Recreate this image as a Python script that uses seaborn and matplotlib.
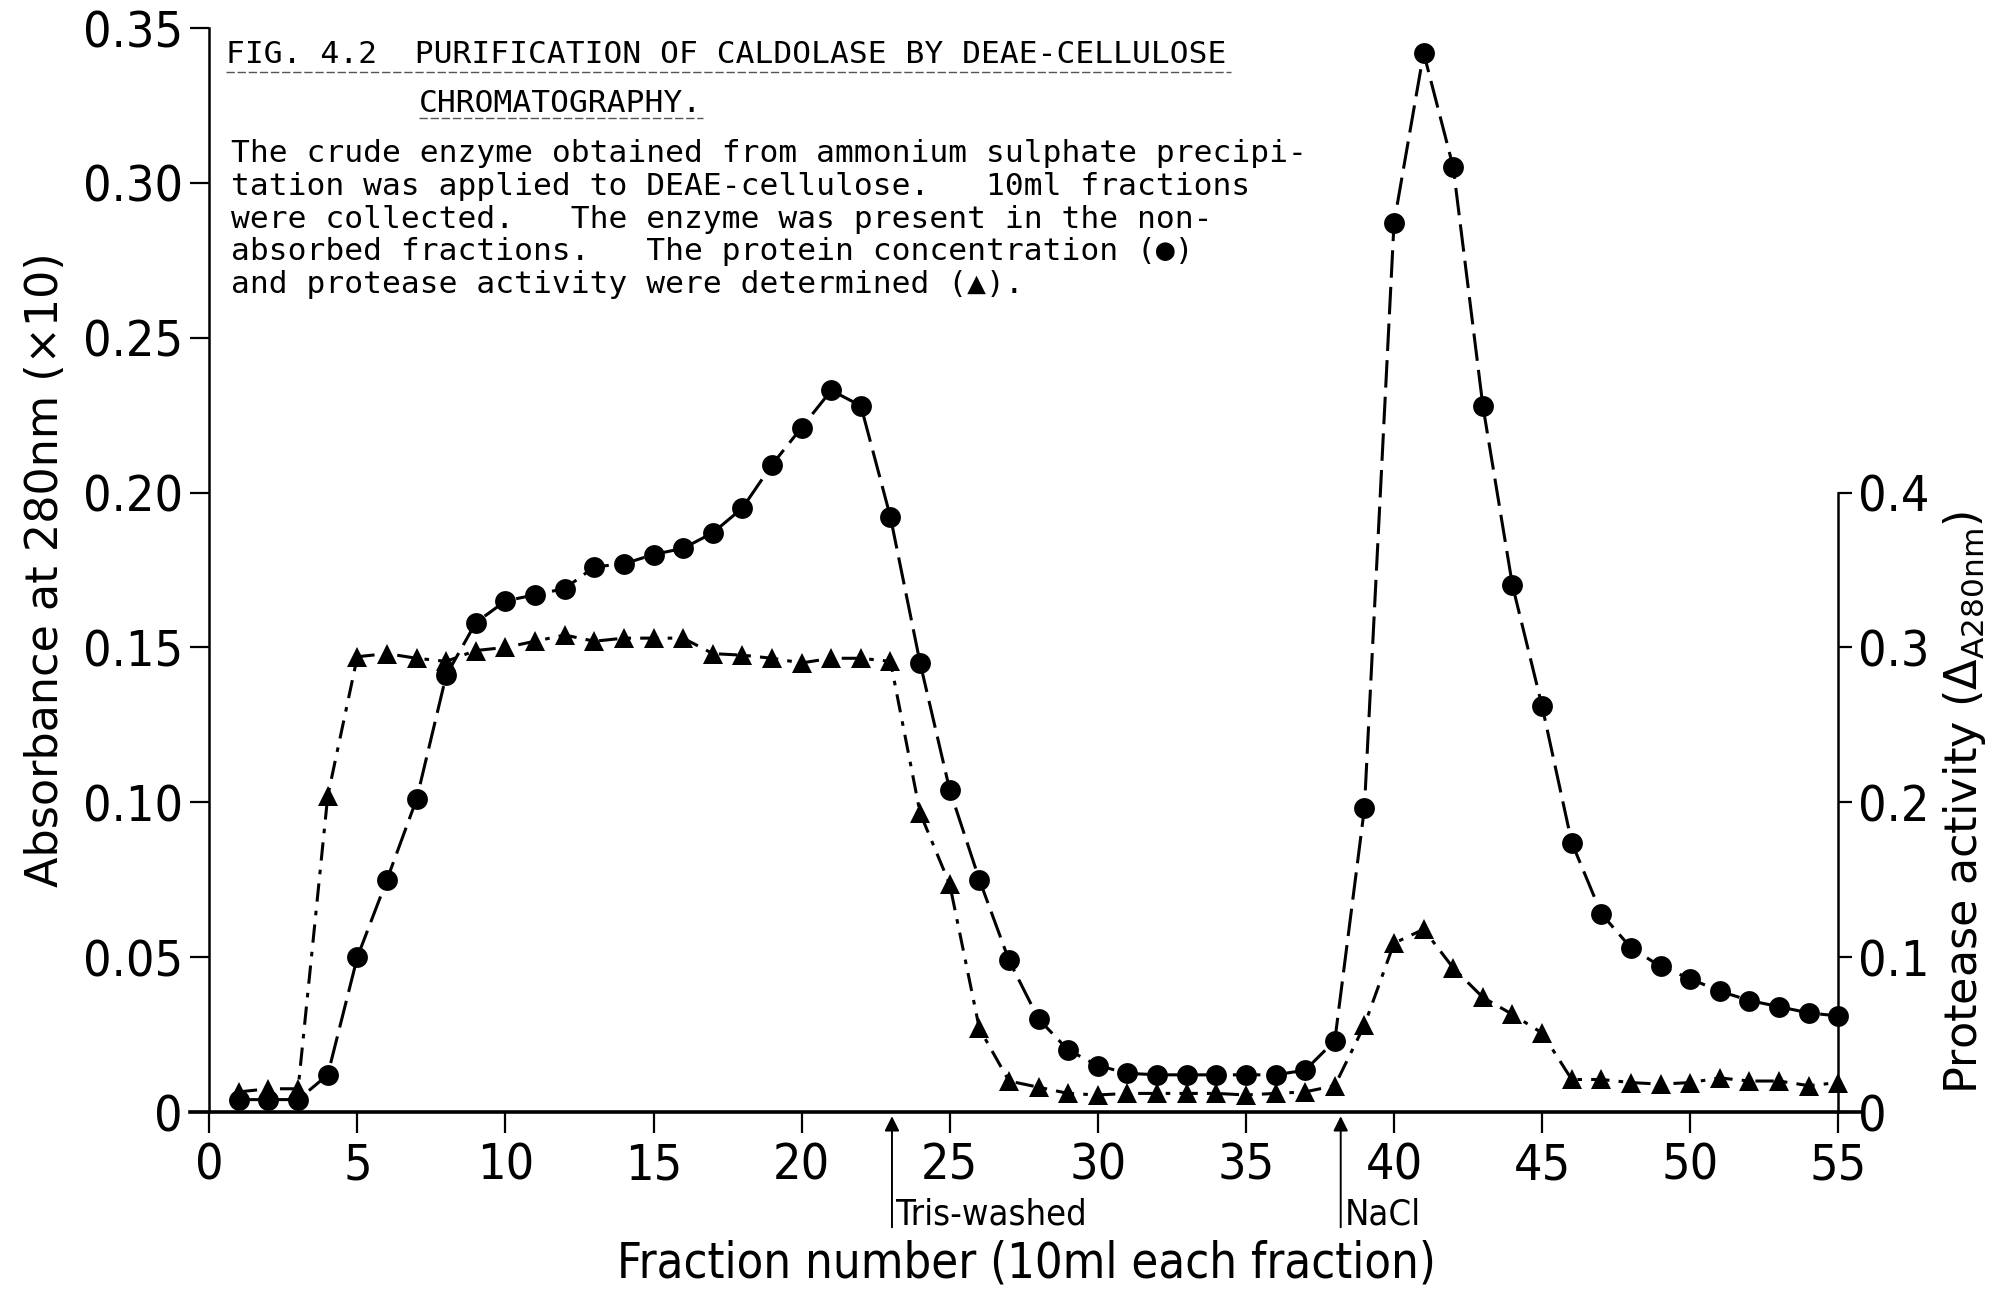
import matplotlib
matplotlib.use("Agg")
import matplotlib.pyplot as plt
import seaborn as sns
import pandas as pd
from matplotlib.lines import Line2D

# ---------------- data ----------------
fractions = list(range(1, 56))
protein_a280 = [0.004, 0.004, 0.004, 0.012, 0.050, 0.075, 0.101, 0.141, 0.158, 0.165,
                0.167, 0.169, 0.176, 0.177, 0.180, 0.182, 0.187, 0.195, 0.209, 0.221,
                0.233, 0.228, 0.192, 0.145, 0.104, 0.075, 0.049, 0.030, 0.020, 0.015,
                0.0125, 0.012, 0.012, 0.012, 0.012, 0.012, 0.0135, 0.023, 0.098, 0.287,
                0.342, 0.305, 0.228, 0.170, 0.131, 0.087, 0.064, 0.053, 0.047, 0.043,
                0.039, 0.036, 0.034, 0.032, 0.031]
protease_activity = [0.013, 0.015, 0.015, 0.204, 0.294, 0.296, 0.293, 0.291, 0.298, 0.300,
                     0.304, 0.308, 0.304, 0.306, 0.306, 0.306, 0.296, 0.295, 0.293, 0.290,
                     0.293, 0.293, 0.291, 0.193, 0.147, 0.054, 0.020, 0.016, 0.012, 0.011,
                     0.012, 0.012, 0.012, 0.012, 0.011, 0.012, 0.013, 0.017, 0.056, 0.109,
                     0.118, 0.093, 0.074, 0.063, 0.051, 0.021, 0.021, 0.019, 0.018, 0.019,
                     0.022, 0.020, 0.020, 0.017, 0.019]
x_ticks = [0, 5, 10, 15, 20, 25, 30, 35, 40, 45, 50, 55]
left_ticks = [0, 0.05, 0.10, 0.15, 0.20, 0.25, 0.30, 0.35]
left_ticklabels = ["0", "0.05", "0.10", "0.15", "0.20", "0.25", "0.30", "0.35"]
right_ticks = [0, 0.1, 0.2, 0.3, 0.4]
right_ticklabels = ["0", "0.1", "0.2", "0.3", "0.4"]
event_positions = [23.05, 38.2]
event_labels = ["Tris-washed", "NaCl"]

title_line1 = "FIG. 4.2  PURIFICATION OF CALDOLASE BY DEAE-CELLULOSE"
title_line2 = "CHROMATOGRAPHY."
caption_lines = [
    "The crude enzyme obtained from ammonium sulphate precipi-",
    "tation was applied to DEAE-cellulose.   10ml fractions",
    "were collected.   The enzyme was present in the non-",
    "absorbed fractions.   The protein concentration (\u25CF)",
    "and protease activity were determined (\u25B2).",
]

df = pd.DataFrame({"fraction": fractions, "protein": protein_a280,
                   "protease": protease_activity})

# ---------------- style ----------------
sns.set_style("white")
plt.rcParams["font.family"] = ["DejaVu Sans"]
plt.rcParams["text.color"] = "black"
plt.rcParams["axes.labelcolor"] = "black"
plt.rcParams["xtick.color"] = "black"
plt.rcParams["ytick.color"] = "black"
narrow = ["Liberation Sans Narrow", "DejaVu Sans"]
mono = ["DejaVu Sans Mono", "DejaVu Sans"]

W, H = 2013, 1293
fig = plt.figure(figsize=(W / 100, H / 100), dpi=100)
fig.patch.set_facecolor("white")
ax = fig.add_axes([190 / W, 1 - 1112 / H, 1672 / W, 1084 / H])
ax.set_facecolor("white")

# protein (circles, dashed line)
sns.lineplot(data=df, x="fraction", y="protein", ax=ax, color="black",
             linewidth=2.2, linestyle=(0, (9, 3)), marker="o", markersize=15,
             markeredgecolor="black", markerfacecolor="black", markeredgewidth=0,
             zorder=3)

ax.set_xlim(-0.65, 55.8)
ax.set_ylim(0, 0.35)

# protease (triangles, dash-dot) on twin axis
tw = ax.twinx()
sns.lineplot(data=df, x="fraction", y="protease", ax=tw, color="black",
             linewidth=2.2, linestyle=(0, (6, 3, 1.5, 3)), marker="^", markersize=15,
             markeredgecolor="black", markerfacecolor="black", markeredgewidth=0,
             zorder=3)
tw.set_ylim(0, 0.70)
tw.set_xlim(-0.65, 55.8)

# ---------------- spines & ticks ----------------
for s in ["top", "right"]:
    ax.spines[s].set_visible(False)
ax.spines["left"].set_position(("data", 0))
ax.spines["left"].set_linewidth(1.8)
ax.spines["bottom"].set_linewidth(2.6)
ax.spines["left"].set_color("black")
ax.spines["bottom"].set_color("black")

for s in ["top", "left", "bottom"]:
    tw.spines[s].set_visible(False)
tw.spines["right"].set_position(("data", 55))
tw.spines["right"].set_bounds(0, 0.4)
tw.spines["right"].set_linewidth(1.8)
tw.spines["right"].set_color("black")

ax.set_xticks(x_ticks)
ax.set_xticklabels([str(t) for t in x_ticks])
ax.set_yticks(left_ticks)
ax.set_yticklabels(left_ticklabels)
tw.set_yticks(right_ticks)
tw.set_yticklabels(right_ticklabels)

ax.tick_params(axis="x", direction="out", length=15, width=1.6, pad=6,
               labelsize=36, color="black", labelcolor="black", bottom=True)
ax.tick_params(axis="y", direction="out", length=14, width=1.6, pad=5,
               labelsize=36, color="black", labelcolor="black", left=True)
tw.tick_params(axis="y", direction="out", length=10, width=1.6, pad=4,
               labelsize=36, color="black", labelcolor="black", right=True)
for lab in ax.get_xticklabels() + ax.get_yticklabels() + tw.get_yticklabels():
    lab.set_family(narrow)
    lab.set_stretch("condensed")

# ---------------- labels ----------------
ax.set_xlabel("Fraction number (10ml each fraction)", fontsize=35, family=narrow,
              color="black")
ax.xaxis.label.set_stretch("condensed")
ax.xaxis.set_label_coords(0.5, -0.118)
ax.xaxis.label.set_va("top")

ax.set_ylabel("Absorbance at 280nm (\u00d710)", fontsize=32, va="center", color="black")
ax.yaxis.set_label_coords(-0.0867, 0.5)

tw.set_ylabel(r"Protease activity ($\Delta_{\mathregular{A280nm}}$)", fontsize=32,
              va="center", rotation=90, color="black")
tw.yaxis.set_label_coords(1.0616, 0.2857)

# event arrows below the axis
for xpos, lab in zip(event_positions, event_labels):
    ax.annotate("", xy=(xpos, 0), xycoords="data",
                xytext=(0, -83), textcoords="offset points",
                arrowprops=dict(arrowstyle="-|>", color="black", lw=1.4,
                                shrinkA=0, shrinkB=3, mutation_scale=22),
                annotation_clip=False)
    ax.annotate(lab, xy=(xpos, 0), xycoords="data",
                xytext=(3, -81), textcoords="offset points",
                ha="left", va="baseline", fontsize=26, family=narrow,
                fontstretch="condensed", color="black",
                annotation_clip=False)

# ---------------- caption ----------------
cap_size = 22.5
fig.text(226 / W, 1 - 63 / H, title_line1, family=mono, fontsize=cap_size,
         ha="left", va="baseline", color="black")
fig.text(419 / W, 1 - 112 / H, title_line2, family=mono, fontsize=cap_size,
         ha="left", va="baseline", color="black")
fig.add_artist(Line2D([226 / W, 1231 / W], [1 - 72 / H, 1 - 72 / H],
                      transform=fig.transFigure, color="#555555", lw=1.0,
                      linestyle=(0, (6, 2))))
fig.add_artist(Line2D([419 / W, 703 / W], [1 - 118 / H, 1 - 118 / H],
                      transform=fig.transFigure, color="#555555", lw=1.0,
                      linestyle=(0, (6, 2))))
baselines = [162, 195, 228, 260, 293]
for line, b in zip(caption_lines, baselines):
    fig.text(231 / W, 1 - b / H, line, family=mono, fontsize=cap_size,
             ha="left", va="baseline", color="black")

fig.savefig("out.png", dpi=100, facecolor="white")
